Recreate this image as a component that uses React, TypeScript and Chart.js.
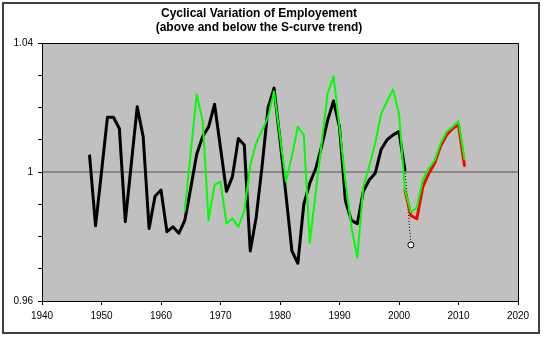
import React, { useEffect, useRef } from "react";
import { Chart, registerables } from "chart.js";

Chart.register(...registerables);

const titleLines = ["Cyclical Variation of Employement", "(above and below the S-curve trend)"];

const xTickYears = [1940, 1950, 1960, 1970, 1980, 1990, 2000, 2010, 2020];
const yLabelValues = [0.96, 1, 1.04];

const blackYears = [
  1948, 1949, 1950, 1951, 1952, 1953, 1954, 1955, 1956, 1957, 1958, 1959, 1960, 1961, 1962, 1963, 1964, 1965,
  1966, 1967, 1968, 1969, 1970, 1971, 1972, 1973, 1974, 1975, 1976, 1977, 1978, 1979, 1980, 1981, 1982, 1983,
  1984, 1985, 1986, 1987, 1988, 1989, 1990, 1991, 1992, 1993, 1994, 1995, 1996, 1997, 1998, 1999, 2000, 2001,
];
const blackValues = [
  1.005, 0.9833, 1.0, 1.017, 1.017, 1.0135, 0.9846, 1.0024, 1.0202, 1.011, 0.9825, 0.9925, 0.9944, 0.9815, 0.983,
  0.981, 0.985, 0.995, 1.0055, 1.011, 1.014, 1.021, 1.0075, 0.994, 0.9985, 1.0104, 1.0084, 0.9755, 0.986, 1.002,
  1.02, 1.026, 1.01, 0.993, 0.9755, 0.9717, 0.99, 0.9965, 1.001, 1.008, 1.016, 1.022, 1.014, 0.991, 0.985, 0.984,
  0.994, 0.9975, 0.9996, 1.007, 1.01, 1.0115, 1.0125, 1.0006,
];

const greenYears = [
  1964, 1965, 1966, 1967, 1968, 1969, 1970, 1971, 1972, 1973, 1974, 1975, 1976, 1977, 1978, 1979, 1980, 1981,
  1982, 1983, 1984, 1985, 1986, 1987, 1988, 1989, 1990, 1991, 1992, 1993, 1994, 1995, 1996, 1997, 1998, 1999,
  2000, 2001, 2002, 2003, 2004, 2005, 2006, 2007, 2008, 2009, 2010, 2011,
];
const greenValues = [
  0.988, 1.006, 1.024, 1.016, 0.985, 0.996, 0.997, 0.984, 0.9856, 0.983, 0.988, 1.002, 1.009, 1.013, 1.017, 1.025,
  1.011, 0.997, 1.005, 1.014, 1.0115, 0.978, 0.9935, 1.009, 1.0244, 1.0296, 1.014, 0.997, 0.983, 0.9735, 0.9954,
  1.0017, 1.009, 1.018, 1.022, 1.0256, 1.018, 0.9944, 0.9875, 0.989, 0.9975, 1.001, 1.0037, 1.0089, 1.0125, 1.014,
  1.0158, 1.004,
];

const redYears = [2001, 2002, 2003, 2004, 2005, 2006, 2007, 2008, 2009, 2010, 2011];
const redValues = [0.9944, 0.9865, 0.9855, 0.9954, 0.9996, 1.0027, 1.0081, 1.0115, 1.0135, 1.0146, 1.002];

const projYears = [2001, 2002];
const projValues = [1.0006, 0.9774];

const baselineYears = [1940, 2020];
const baselineValues = [1, 1];

const pts = (xs: number[], ys: number[]) => xs.map((x, i) => ({ x, y: ys[i] }));

const bgPlugin = {
  id: "bgPlugin",
  beforeDraw(chart: any) {
    const { ctx, chartArea: a, width, height } = chart;
    ctx.save();
    ctx.fillStyle = "#ffffff";
    ctx.fillRect(0, 0, width, height);
    ctx.fillStyle = "#c0c0c0";
    ctx.fillRect(a.left, a.top, a.right - a.left, a.bottom - a.top);
    ctx.restore();
  },
  afterDraw(chart: any) {
    const { ctx, chartArea: a } = chart;
    ctx.save();
    ctx.strokeStyle = "#000000";
    ctx.lineWidth = 1;
    ctx.beginPath();
    ctx.moveTo(a.left, a.top + 0.5);
    ctx.lineTo(a.right + 0.5, a.top + 0.5);
    ctx.lineTo(a.right + 0.5, a.bottom);
    ctx.stroke();
    ctx.strokeStyle = "#404040";
    ctx.lineWidth = 2;
    ctx.strokeRect(3, 3, 536, 330);
    ctx.restore();
  },
};

const lineStyle = { pointRadius: 0, tension: 0, borderJoinStyle: "round" as const, borderCapStyle: "round" as const };

export default function App() {
  const ref = useRef<HTMLCanvasElement | null>(null);
  useEffect(() => {
    document.body.style.margin = "0";
    const canvas = ref.current;
    if (!canvas) return;
    const chart = new Chart(canvas, {
      type: "line",
      data: {
        datasets: [
          {
            label: "Green",
            data: pts(greenYears, greenValues),
            borderColor: "#00ff00",
            borderWidth: 2,
            ...lineStyle,
          },
          {
            label: "Red",
            data: pts(redYears, redValues),
            borderColor: "#ff0000",
            borderWidth: 3,
            ...lineStyle,
          },
          {
            label: "Black",
            data: pts(blackYears, blackValues),
            borderColor: "#000000",
            borderWidth: 3,
            ...lineStyle,
          },
          {
            label: "Projection",
            data: pts(projYears, projValues),
            borderColor: "#000000",
            borderWidth: 1,
            borderDash: [1, 2],
            pointRadius: [0, 3],
            pointBackgroundColor: "#ffffff",
            pointBorderColor: "#000000",
            pointBorderWidth: 1,
            tension: 0,
          },
          {
            label: "Trend",
            data: pts(baselineYears, baselineValues),
            borderColor: "#505050",
            borderWidth: 1,
            pointRadius: 0,
            tension: 0,
          },
        ],
      },
      options: {
        responsive: false,
        animation: false,
        layout: { padding: { left: 0, right: 27, top: 0, bottom: 0 } },
        plugins: {
          legend: { display: false },
          tooltip: { enabled: false },
          title: {
            display: true,
            text: titleLines,
            color: "#000000",
            font: { family: "'Liberation Sans', Arial, sans-serif", size: 12, weight: "bold", lineHeight: 1.1667 },
            padding: { top: 7, bottom: 8 },
          },
        },
        scales: {
          x: {
            type: "linear",
            min: 1940,
            max: 2020,
            afterBuildTicks: (scale: any) => {
              scale.ticks = xTickYears.map((v) => ({ value: v }));
            },
            afterFit: (scale: any) => {
              scale.height = 39;
              scale.paddingLeft = 0;
              scale.paddingRight = 0;
            },
            ticks: {
              color: "#000000",
              font: { family: "'Liberation Sans', Arial, sans-serif", size: 10 },
              padding: 5,
              maxRotation: 0,
              autoSkip: false,
              callback: (v: any) => String(v),
            },
            grid: { display: true, drawOnChartArea: false, drawTicks: true, tickLength: 4, color: "#000000" },
            border: { display: true, color: "#000000", width: 1, dash: [1, 2] },
          },
          y: {
            type: "linear",
            min: 0.96,
            max: 1.04,
            afterBuildTicks: (scale: any) => {
              const t = [];
              for (let i = 0; i <= 8; i++) t.push({ value: Math.round((0.96 + i * 0.01) * 100) / 100 });
              scale.ticks = t;
            },
            afterFit: (scale: any) => {
              scale.width = 42;
              scale.paddingTop = 0;
              scale.paddingBottom = 0;
            },
            ticks: {
              color: "#000000",
              font: { family: "'Liberation Sans', Arial, sans-serif", size: 10 },
              padding: 5,
              autoSkip: false,
              callback: (v: any) => {
                const hit = yLabelValues.find((l) => Math.abs(l - v) < 1e-6);
                return hit === undefined ? "" : String(hit);
              },
            },
            grid: { display: true, drawOnChartArea: false, drawTicks: true, tickLength: 4, color: "#000000" },
            border: { display: true, color: "#000000", width: 1 },
          },
        },
      },
      plugins: [bgPlugin],
    });
    return () => chart.destroy();
  }, []);
  return (
    <div style={{ width: 545, height: 340 }}>
      <canvas ref={ref} width={545} height={340} />
    </div>
  );
}
